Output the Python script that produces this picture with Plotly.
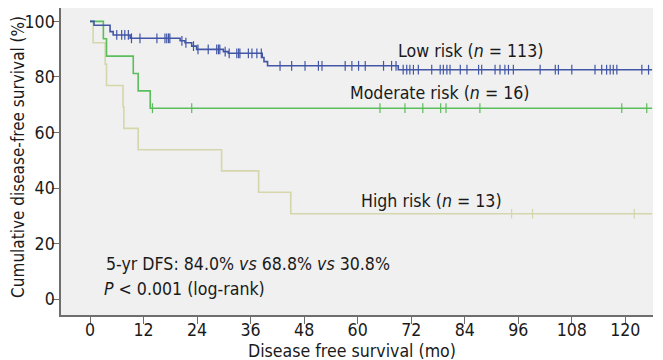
import numpy as np
import plotly.graph_objects as go

# ---- data ----
low_t = [0, 0.9, 4.5, 5.2, 9.0, 20.2, 21.3, 22.8, 23.9, 29.9, 31.0, 38.6, 39.0, 39.8, 69.1, 126.0]
low_s = [100, 98.6, 96.3, 95.1, 93.9, 93.0, 92.3, 91.1, 89.9, 89.1, 88.5, 87.0, 85.5, 84.0, 82.6, 82.6]
low_cens = [6.0, 7.1, 7.8, 8.6, 9.3, 11.2, 15.0, 16.8, 17.2, 17.6, 17.9, 20.6, 21.5, 23.2,
            24.2, 26.5, 28.4, 28.8, 29.1, 30.3, 31.2, 32.9, 33.3, 33.6, 35.5, 36.3, 37.4, 38.4,
            42.6, 45.2, 48.2, 51.2, 52.0, 57.2, 58.7, 60.2, 61.7, 65.8, 67.6, 68.6,
            70.2, 71.0, 71.7, 72.5, 73.6, 76.6, 78.5, 79.2, 80.0, 80.7, 83.0, 84.5, 87.1,
            87.8, 90.8, 91.9, 93.0, 93.8, 94.9, 100.9, 104.3, 105.0, 108.0, 113.2, 114.7,
            115.8, 116.6, 117.3, 118.1, 123.7, 125.2]

mod_t = [0, 3.0, 3.7, 9.7, 10.8, 13.5, 126.0]
mod_s = [100, 93.75, 87.5, 81.25, 75.0, 68.75, 68.75]
mod_cens = [14.0, 22.8, 65.0, 70.6, 74.6, 78.6, 79.8, 87.4, 119.2, 124.8]

high_t = [0, 0.7, 3.4, 3.7, 7.4, 7.6, 10.8, 29.5, 37.8, 45.0, 126.0]
high_s = [100, 92.3, 84.6, 76.9, 69.2, 61.5, 53.8, 46.2, 38.5, 30.8, 30.8]
high_cens = [94.5, 99.2, 122.0]

x_ticks = [0, 12, 24, 36, 48, 60, 72, 84, 96, 108, 120]
y_ticks = [0, 20, 40, 60, 80, 100]

labels = ["Low risk (<i>n</i> = 113)", "Moderate risk (<i>n</i> = 16)", "High risk (<i>n</i> = 13)"]
stats_line1 = "5-yr DFS: 84.0% <i>vs</i> 68.8% <i>vs</i> 30.8%"
stats_line2 = "<i>P</i> < 0.001 (log-rank)"
x_title = "Disease free survival (mo)"
y_title = "Cumulative disease-free survival (%)"

colors = ["#4256a6", "#5cbd5c", "#d6d6ac"]
FONT = "DejaVu Sans Condensed, DejaVu Sans, sans-serif"
FS = 17.6
TXT = "#1a1a1a"


def step_value(ts, ss, t):
    idx = np.searchsorted(np.asarray(ts), t, side="right") - 1
    return np.asarray(ss)[idx]


fig = go.Figure()
groups = [(high_t, high_s, high_cens), (mod_t, mod_s, mod_cens), (low_t, low_s, low_cens)]
cols = [colors[2], colors[1], colors[0]]
for (ts, ss, cens), c in zip(groups, cols):
    fig.add_trace(go.Scatter(x=ts, y=ss, mode="lines", line=dict(color=c, width=1.6, shape="hv"),
                             showlegend=False, hoverinfo="skip"))
    fig.add_trace(go.Scatter(x=cens, y=step_value(ts, ss, cens), mode="markers",
                             marker=dict(symbol="line-ns", size=7, line=dict(color=c, width=1.2)),
                             showlegend=False, hoverinfo="skip"))

ann = dict(showarrow=False, xanchor="left", yanchor="middle", font=dict(family=FONT, size=FS, color=TXT))
fig.add_annotation(x=68.7, y=89.5, text=labels[0], **ann)
fig.add_annotation(x=57.9, y=74.2, text=labels[1], **ann)
fig.add_annotation(x=60.4, y=35.4, text=labels[2], **ann)
fig.add_annotation(x=3.2, y=12.7, text=stats_line1, **ann)
fig.add_annotation(x=2.8, y=3.7, text=stats_line2, **ann)

# axis titles placed as annotations relative to the plot area
fig.add_annotation(xref="paper", yref="paper", x=0.491, y=0, yshift=-35.5, text=x_title,
                   showarrow=False, xanchor="center", yanchor="middle",
                   font=dict(family=FONT, size=FS, color=TXT))
fig.add_annotation(xref="paper", yref="paper", x=0, xshift=-43, y=0.515, text=y_title, textangle=-90,
                   showarrow=False, xanchor="center", yanchor="middle",
                   font=dict(family=FONT, size=17, color=TXT))

axis_common = dict(showgrid=False, zeroline=False, showline=True, linecolor="#6e6e6e", linewidth=1.5,
                   ticks="outside", ticklen=7, tickwidth=1.2, tickcolor="#6e6e6e", automargin=False,
                   tickfont=dict(family=FONT, size=FS, color=TXT))
fig.update_xaxes(range=[-6.5, 126.2], tickvals=x_ticks, ticktext=[str(v) for v in x_ticks],
                 ticklabelstandoff=-9, **axis_common)
fig.update_yaxes(range=[-5.65, 104.8], tickvals=y_ticks, ticktext=[str(v) for v in y_ticks],
                 ticklabelstandoff=-6, **axis_common)

# the page body adds an 8 px offset, so the figure is 8 px smaller than the window
fig.update_layout(width=655, height=352, margin=dict(l=53, r=10, t=0, b=45.3, autoexpand=False),
                  plot_bgcolor="#f0f0f0", paper_bgcolor="#ffffff", font=dict(family=FONT))
fig.write_html("out.html")
